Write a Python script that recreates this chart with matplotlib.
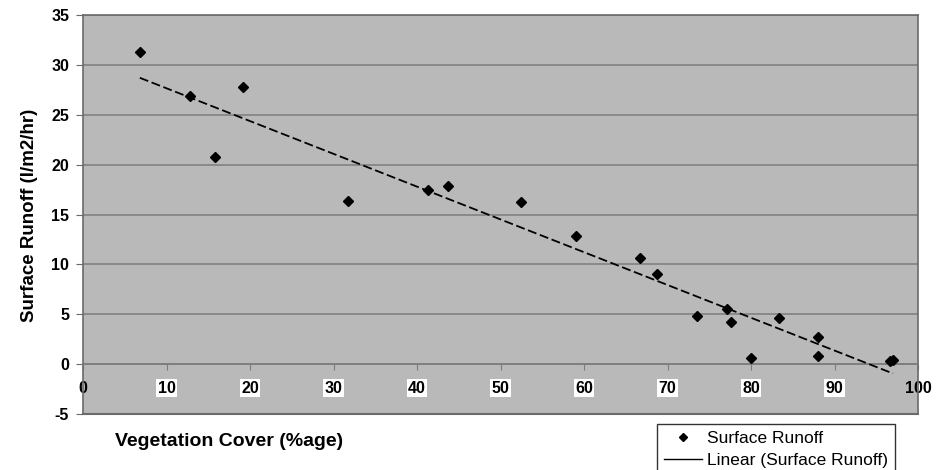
import numpy as np
import matplotlib.pyplot as plt
from matplotlib.lines import Line2D

# values
veg_cover = [6.8, 12.8, 15.8, 19.2, 31.7, 41.3, 43.7, 52.5, 59.0, 66.7,
             68.7, 73.5, 77.1, 77.6, 80.0, 83.4, 88.0, 88.0, 96.6, 97.0]
runoff = [31.3, 26.9, 20.8, 27.8, 16.4, 17.5, 17.9, 16.3, 12.8, 10.6,
          9.0, 4.8, 5.5, 4.2, 0.6, 4.6, 2.7, 0.8, 0.3, 0.4]
x_ticks = [0, 10, 20, 30, 40, 50, 60, 70, 80, 90, 100]
y_ticks = [-5, 0, 5, 10, 15, 20, 25, 30, 35]

plt.rcParams["font.family"] = ["Liberation Sans", "DejaVu Sans"]

fig = plt.figure(figsize=(9.48, 4.70), dpi=100)
ax = fig.add_axes([83 / 948, 1 - 414 / 470, 835 / 948, 399 / 470])
ax.set_facecolor("#b9b9b9")

x = np.array(veg_cover)
y = np.array(runoff)
slope, intercept = np.polyfit(x, y, 1)
xl = np.array([x.min(), x.max()])

ax.plot(x, y, "D", color="black", markersize=5.5, zorder=4)
ax.plot(xl, slope * xl + intercept, color="black", lw=1.3,
        dashes=(5, 2), zorder=3)

ax.set_xlim(0, 100)
ax.set_ylim(-5, 35)
ax.set_yticks(y_ticks)
ax.set_yticklabels([str(v) for v in y_ticks], fontweight="bold", fontsize=11.5)
ax.yaxis.grid(True, color="#7c7c7c", lw=1.1)
ax.set_axisbelow(True)

# x axis crosses at y = 0
ax.spines["bottom"].set_position(("data", 0))
ax.spines["bottom"].set_color("#7c7c7c")
ax.spines["bottom"].set_linewidth(1.1)
for s in ["left", "top", "right"]:
    ax.spines[s].set_color("#6a6a6a")
    ax.spines[s].set_linewidth(1.2)
ax.axhline(-5, color="#6a6a6a", lw=1.5, clip_on=False)

ax.set_xticks(x_ticks)
ax.set_xticklabels([str(v) for v in x_ticks], fontweight="bold", fontsize=11.5)
ax.tick_params(axis="x", direction="out", length=4, color="#7c7c7c", pad=8)
ax.tick_params(axis="y", direction="out", length=5, color="#6a6a6a", pad=5)
for lab, v in zip(ax.get_xticklabels(), x_ticks):
    if 0 < v < 100:
        lab.set_bbox(dict(facecolor="white", edgecolor="none", pad=1))

fig.text(30 / 948, 1 - 215 / 470, "Surface Runoff (l/m2/hr)", rotation=90,
         ha="center", va="center", fontsize=13.5, fontweight="bold")
fig.text(115 / 948, 1 - 441 / 470, "Vegetation Cover (%age)",
         ha="left", va="center", fontsize=14, fontweight="bold")

handles = [Line2D([], [], marker="D", color="black", ls="none", markersize=4.5),
           Line2D([], [], color="black", lw=1)]
leg = fig.legend(handles, ["Surface Runoff", "Linear (Surface Runoff)"],
                 loc="upper left", bbox_to_anchor=(657 / 948, 1 - 424 / 470),
                 fontsize=12.5, frameon=True, fancybox=False, handlelength=2.2,
                 borderpad=0.4, labelspacing=0.4, handletextpad=0.3,
                 borderaxespad=0)
leg.get_frame().set_edgecolor("black")
leg.get_frame().set_linewidth(1)

fig.savefig("out.png", dpi=100)
